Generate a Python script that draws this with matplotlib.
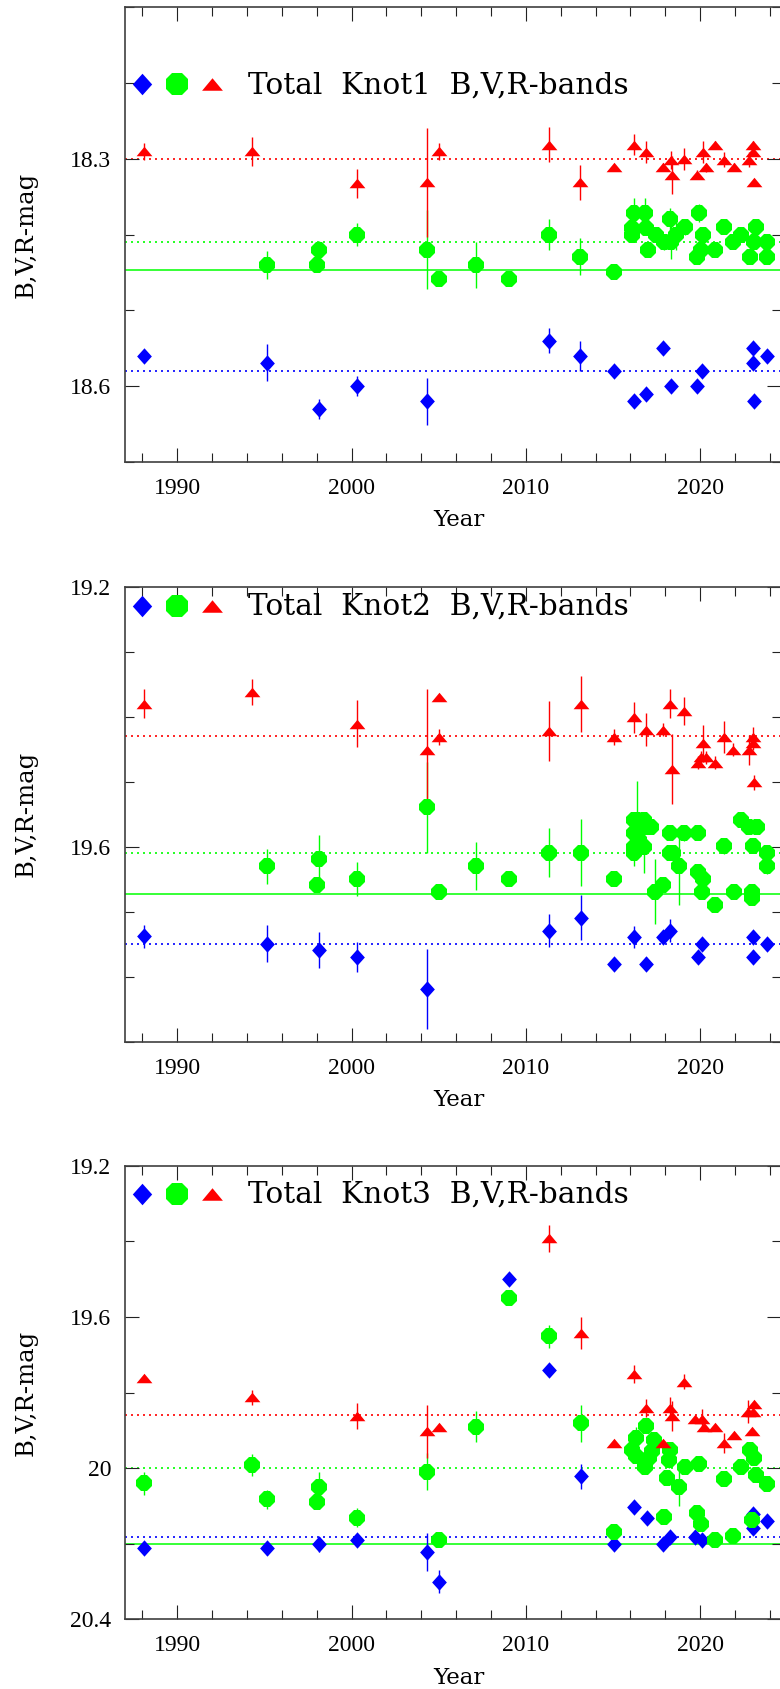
import matplotlib
matplotlib.use("Agg")
import matplotlib.pyplot as plt
from matplotlib.path import Path
from matplotlib.ticker import FixedLocator, MultipleLocator, FuncFormatter

# ---------------------------------------------------------------- data
x_major_ticks = [1990, 2000, 2010, 2020]
x_label = "Year"
y_label = "B,V,R-mag"
titles = ["Total  Knot1  B,V,R-bands", "Total  Knot2  B,V,R-bands", "Total  Knot3  B,V,R-bands"]

# ---- Knot 1
k1_B_year = [1988.1, 1995.13, 1998.13, 2000.33, 2004.31, 2011.34, 2013.12, 2015.06, 2016.2, 2016.91,
             2017.88, 2018.31, 2019.84, 2020.08, 2023.01, 2023.03, 2023.09, 2023.81]
k1_B_mag = [18.56, 18.569, 18.63, 18.60, 18.62, 18.54, 18.56, 18.58, 18.62, 18.61,
            18.55, 18.60, 18.60, 18.58, 18.55, 18.57, 18.62, 18.56]
k1_B_err = [0.006, 0.024, 0.013, 0.013, 0.031, 0.017, 0.02, 0.006, 0.008, 0.008,
            0.006, 0.008, 0.006, 0.006, 0.006, 0.006, 0.006, 0.006]

k1_V_year = [1995.13, 1998.0, 1998.13, 2000.33, 2004.31, 2005.04, 2007.12, 2009.05, 2011.34, 2013.12,
             2015.06, 2016.2, 2016.86, 2016.11, 2016.11, 2016.91, 2017.0, 2017.49, 2017.91, 2018.29,
             2018.34, 2018.63, 2019.11, 2019.91, 2019.83, 2020.14, 2020.06, 2020.86, 2021.37, 2021.91,
             2022.34, 2022.86, 2023.2, 2023.06, 2023.86, 2023.86]
k1_V_mag = [18.44, 18.44, 18.42, 18.40, 18.42, 18.459, 18.44, 18.459, 18.40, 18.429,
            18.449, 18.371, 18.371, 18.391, 18.40, 18.391, 18.42, 18.40, 18.41, 18.38,
            18.41, 18.40, 18.39, 18.371, 18.429, 18.40, 18.42, 18.42, 18.39, 18.41,
            18.40, 18.429, 18.39, 18.41, 18.41, 18.429]
k1_V_err = [0.018, 0.008, 0.012, 0.015, 0.052, 0.006, 0.03, 0.006, 0.021, 0.025,
            0.006, 0.02, 0.02, 0.01, 0.01, 0.01, 0.01, 0.01, 0.01, 0.015,
            0.022, 0.02, 0.01, 0.012, 0.006, 0.01, 0.006, 0.006, 0.008, 0.006,
            0.008, 0.006, 0.006, 0.006, 0.006, 0.006]

k1_R_year = [1988.1, 1994.3, 2000.33, 2004.31, 2005.04, 2011.34, 2013.12, 2015.06, 2016.2, 2016.91,
             2017.88, 2018.31, 2018.36, 2019.05, 2019.8, 2020.14, 2020.33, 2020.85, 2021.37, 2021.94,
             2022.82, 2023.01, 2023.03, 2023.09]
k1_R_mag = [18.29, 18.29, 18.332, 18.331, 18.29, 18.281, 18.331, 18.311, 18.281, 18.291,
            18.311, 18.301, 18.321, 18.30, 18.321, 18.291, 18.311, 18.281, 18.301, 18.311,
            18.301, 18.281, 18.291, 18.331]
k1_R_err = [0.011, 0.019, 0.019, 0.072, 0.011, 0.023, 0.023, 0.004, 0.014, 0.014,
            0.005, 0.012, 0.025, 0.015, 0.006, 0.014, 0.006, 0.004, 0.01, 0.005,
            0.01, 0.005, 0.005, 0.005]

k1_R_ref, k1_V_ref, k1_V_mean, k1_B_ref = 18.30, 18.41, 18.447, 18.58

# ---- Knot 2
k2_B_year = [1988.1, 1995.13, 1998.13, 2000.33, 2004.31, 2011.34, 2013.14, 2015.06, 2016.2, 2016.89,
             2017.88, 2018.27, 2019.85, 2020.08, 2023.01, 2023.01, 2023.85]
k2_B_mag = [19.738, 19.749, 19.759, 19.769, 19.819, 19.729, 19.709, 19.780, 19.739, 19.780,
            19.739, 19.729, 19.769, 19.749, 19.739, 19.769, 19.749]
k2_B_err = [0.018, 0.028, 0.028, 0.023, 0.062, 0.026, 0.035, 0.006, 0.017, 0.01,
            0.006, 0.018, 0.006, 0.006, 0.006, 0.01, 0.006]

k2_V_year = [1995.13, 1998.0, 1998.13, 2000.33, 2004.31, 2005.04, 2007.14, 2009.05, 2011.34, 2013.14,
             2015.06, 2016.2, 2016.2, 2016.2, 2016.2, 2016.4, 2016.8, 2016.9, 2017.2, 2016.8,
             2016.5, 2017.41, 2017.88, 2018.27, 2018.27, 2018.46, 2018.8, 2019.07, 2019.85, 2019.85,
             2020.18, 2020.08, 2020.85, 2021.37, 2021.94, 2022.32, 2022.82, 2023.24, 2023.01, 2022.95,
             2022.95, 2023.81, 2023.81]
k2_V_mag = [19.630, 19.659, 19.619, 19.650, 19.539, 19.669, 19.630, 19.649, 19.609, 19.609,
            19.649, 19.559, 19.579, 19.600, 19.609, 19.559, 19.559, 19.569, 19.569, 19.600,
            19.589, 19.669, 19.659, 19.579, 19.609, 19.609, 19.630, 19.579, 19.579, 19.639,
            19.650, 19.669, 19.690, 19.599, 19.669, 19.559, 19.569, 19.569, 19.599, 19.669,
            19.679, 19.609, 19.630]
k2_V_err = [0.027, 0.008, 0.037, 0.026, 0.07, 0.006, 0.037, 0.006, 0.038, 0.051,
            0.01, 0.01, 0.01, 0.01, 0.02, 0.06, 0.01, 0.01, 0.01, 0.04,
            0.01, 0.05, 0.01, 0.01, 0.012, 0.01, 0.06, 0.012, 0.01, 0.01,
            0.01, 0.006, 0.01, 0.012, 0.006, 0.012, 0.01, 0.006, 0.006, 0.006,
            0.006, 0.006, 0.012]

k2_R_year = [1988.1, 1994.3, 2000.33, 2004.31, 2005.04, 2005.04, 2011.34, 2013.14, 2015.06, 2016.2,
             2016.89, 2017.88, 2018.27, 2018.36, 2019.07, 2019.85, 2020.18, 2020.05, 2020.33, 2020.85,
             2021.37, 2021.9, 2022.82, 2023.01, 2023.01, 2023.09]
k2_R_mag = [19.380, 19.362, 19.411, 19.451, 19.370, 19.431, 19.422, 19.381, 19.431, 19.401,
            19.420, 19.420, 19.380, 19.480, 19.391, 19.471, 19.441, 19.462, 19.462, 19.471,
            19.431, 19.451, 19.451, 19.431, 19.441, 19.501]
k2_R_err = [0.022, 0.020, 0.036, 0.093, 0.004, 0.012, 0.046, 0.043, 0.012, 0.024,
            0.025, 0.01, 0.022, 0.054, 0.022, 0.01, 0.028, 0.01, 0.01, 0.01,
            0.025, 0.01, 0.023, 0.015, 0.01, 0.012]

k2_R_ref, k2_V_ref, k2_V_mean, k2_B_ref = 19.429, 19.609, 19.673, 19.749

# ---- Knot 3
k3_B_year = [1988.1, 1995.13, 1998.13, 2000.33, 2004.31, 2005.04, 2009.05, 2011.34, 2013.14, 2015.06,
             2016.2, 2016.95, 2017.88, 2018.27, 2019.7, 2020.08, 2023.01, 2023.01, 2023.81]
k3_B_mag = [20.212, 20.212, 20.202, 20.190, 20.221, 20.30, 19.50, 19.741, 20.021, 20.202,
            20.102, 20.131, 20.202, 20.181, 20.181, 20.190, 20.122, 20.159, 20.140]
k3_B_err = [0.006, 0.017, 0.02, 0.015, 0.05, 0.03, 0.006, 0.01, 0.033, 0.006,
            0.006, 0.006, 0.006, 0.006, 0.006, 0.006, 0.006, 0.006, 0.006]

k3_V_year = [1988.1, 1994.3, 1995.13, 1998.0, 1998.13, 2000.33, 2004.31, 2005.04, 2007.14, 2009.05,
             2011.34, 2013.14, 2015.06, 2016.11, 2016.34, 2016.29, 2016.91, 2016.86, 2017.06, 2017.34,
             2017.26, 2017.91, 2018.29, 2018.2, 2018.11, 2018.77, 2019.11, 2019.91, 2019.83, 2020.06,
             2020.86, 2021.37, 2021.91, 2022.34, 2022.86, 2023.06, 2023.2, 2022.97, 2023.86]
k3_V_mag = [20.040, 19.992, 20.083, 20.091, 20.051, 20.131, 20.009, 20.190, 19.890, 19.551,
            19.651, 19.882, 20.168, 19.952, 19.921, 19.969, 19.888, 19.998, 19.974, 19.926,
            19.955, 20.129, 19.952, 19.979, 20.027, 20.049, 19.998, 19.988, 20.118, 20.147,
            20.190, 20.029, 20.180, 19.998, 19.952, 19.974, 20.017, 20.137, 20.041]
k3_V_err = [0.03, 0.03, 0.025, 0.01, 0.04, 0.025, 0.048, 0.01, 0.04, 0.006,
            0.03, 0.048, 0.01, 0.01, 0.03, 0.01, 0.01, 0.01, 0.01, 0.01,
            0.01, 0.01, 0.01, 0.02, 0.01, 0.05, 0.01, 0.01, 0.01, 0.01,
            0.01, 0.01, 0.01, 0.01, 0.01, 0.01, 0.01, 0.01, 0.01]

k3_R_year = [1988.1, 1994.3, 2000.33, 2004.31, 2005.04, 2011.34, 2013.14, 2015.06, 2016.2, 2016.89,
             2017.88, 2018.27, 2018.36, 2019.07, 2019.7, 2020.08, 2020.2, 2020.85, 2021.37, 2021.94,
             2022.77, 2023.09, 2023.01, 2022.97]
k3_R_mag = [19.762, 19.813, 19.862, 19.902, 19.892, 19.392, 19.642, 19.933, 19.751, 19.842,
            19.933, 19.842, 19.862, 19.771, 19.871, 19.871, 19.890, 19.890, 19.933, 19.912,
            19.851, 19.831, 19.851, 19.902]
k3_R_err = [0.006, 0.02, 0.034, 0.07, 0.008, 0.035, 0.043, 0.005, 0.024, 0.024,
            0.005, 0.03, 0.04, 0.02, 0.006, 0.027, 0.006, 0.006, 0.027, 0.006,
            0.03, 0.006, 0.006, 0.006]

k3_R_ref, k3_V_ref, k3_V_mean, k3_B_ref = 19.860, 20.0, 20.202, 20.181

# y-axis settings per panel
y_limits = [(18.7, 18.1), (19.9, 19.2), (20.4, 19.2)]
y_major_ticks = [[18.3, 18.6], [19.2, 19.6], [19.2, 19.6, 20.0, 20.4]]
y_minor_step = [0.1, 0.1, 0.2]

# ---------------------------------------------------------------- style
BLUE, GREEN, RED = "#0000ff", "#00ff00", "#ff0000"
W, H = 780, 1689
X_LEFT_PX, X_RIGHT_PX = 125, 781
PX_PER_YEAR = 17.43
panel_top_px = [7.5, 586.7, 1165.7]
panel_bot_px = [461.7, 1041.7, 1619.3]
legend_center_y = [0.8316, 0.9576, 0.9376]
title_baseline_y = [0.8107, 0.9378, 0.9184]

tri_path = Path([(-1, -0.6), (1, -0.6), (0, 0.6), (-1, -0.6)],
                [Path.MOVETO, Path.LINETO, Path.LINETO, Path.CLOSEPOLY])
dia_path = Path([(0, 1), (0.9, 0), (0, -1), (-0.9, 0), (0, 1)],
                [Path.MOVETO, Path.LINETO, Path.LINETO, Path.LINETO, Path.CLOSEPOLY])

panels = [
    dict(B=(k1_B_year, k1_B_mag, k1_B_err), V=(k1_V_year, k1_V_mag, k1_V_err),
         R=(k1_R_year, k1_R_mag, k1_R_err), refs=(k1_R_ref, k1_V_ref, k1_V_mean, k1_B_ref)),
    dict(B=(k2_B_year, k2_B_mag, k2_B_err), V=(k2_V_year, k2_V_mag, k2_V_err),
         R=(k2_R_year, k2_R_mag, k2_R_err), refs=(k2_R_ref, k2_V_ref, k2_V_mean, k2_B_ref)),
    dict(B=(k3_B_year, k3_B_mag, k3_B_err), V=(k3_V_year, k3_V_mag, k3_V_err),
         R=(k3_R_year, k3_R_mag, k3_R_err), refs=(k3_R_ref, k3_V_ref, k3_V_mean, k3_B_ref)),
]

fig = plt.figure(figsize=(W / 100, H / 100), dpi=100)

x0 = 1987.0
x1 = x0 + (X_RIGHT_PX - X_LEFT_PX) / PX_PER_YEAR
fmt = FuncFormatter(lambda v, p: f"{v:g}")
dotted = (0, (1.2, 2.4))

for i, p in enumerate(panels):
    top, bot = panel_top_px[i], panel_bot_px[i]
    rect = [X_LEFT_PX / W, 1 - bot / H, (X_RIGHT_PX - X_LEFT_PX) / W, (bot - top) / H]
    ax = fig.add_axes(rect)
    ax.set_xlim(x0, x1)
    ax.set_ylim(*y_limits[i])

    r_ref, v_ref, v_mean, b_ref = p["refs"]
    ax.axhline(r_ref, color=RED, ls=dotted, lw=1.2, zorder=1.5)
    ax.axhline(v_ref, color=GREEN, ls=dotted, lw=1.2, zorder=1.5)
    ax.axhline(v_mean, color=GREEN, ls="-", lw=1.1, zorder=1.5)
    ax.axhline(b_ref, color=BLUE, ls=dotted, lw=1.2, zorder=1.5)

    bands = [("B", BLUE, dia_path, 11.8, 2.0, 3.0),
             ("V", GREEN, "8", 12.3, 2.1, 3.1),
             ("R", RED, tri_path, 11.4, 2.2, 3.2)]
    for key, col, mk, ms, ez, mz in bands:
        yr, mg, er = p[key]
        ax.errorbar(yr, mg, yerr=er, fmt="none", ecolor=col, elinewidth=1.0,
                    capsize=0, zorder=ez)
        ax.plot(yr, mg, linestyle="none", marker=mk, ms=ms, mfc=col, mec=col,
                mew=0, zorder=mz)

    # legend glyphs + title
    ly = legend_center_y[i]
    ax.plot([(142.3 - X_LEFT_PX) / 656], [ly], transform=ax.transAxes, marker=dia_path,
            ms=15.5, mfc=BLUE, mew=0, ls="none", clip_on=False)
    ax.plot([(177.3 - X_LEFT_PX) / 656], [ly], transform=ax.transAxes, marker="8",
            ms=17.0, mfc=GREEN, mew=0, ls="none", clip_on=False)
    ax.plot([(212.0 - X_LEFT_PX) / 656], [ly], transform=ax.transAxes, marker=tri_path,
            ms=15.0, mfc=RED, mew=0, ls="none", clip_on=False)
    ax.text((248.3 - X_LEFT_PX) / 656, title_baseline_y[i], titles[i], transform=ax.transAxes,
            fontsize=21.3, family="DejaVu Serif", ha="left", va="baseline", color="black")

    # ticks
    ax.xaxis.set_major_locator(FixedLocator(x_major_ticks))
    ax.xaxis.set_minor_locator(MultipleLocator(2))
    ax.yaxis.set_major_locator(FixedLocator(y_major_ticks[i]))
    ax.yaxis.set_minor_locator(MultipleLocator(y_minor_step[i]))
    ax.yaxis.set_major_formatter(fmt)
    ax.xaxis.set_major_formatter(fmt)
    ax.tick_params(which="both", direction="in", top=True, right=True,
                   color="#222222", width=0.8)
    ax.tick_params(which="major", length=10)
    ax.tick_params(which="minor", length=6.5)
    ax.tick_params(axis="x", which="major", pad=11.5, labelsize=17,
                   labelfontfamily="Liberation Serif")
    ax.tick_params(axis="y", which="major", pad=10, labelsize=17,
                   labelfontfamily="Liberation Serif")
    for s in ax.spines.values():
        s.set_color("#404040")
        s.set_linewidth(1.2)

    ax.set_xlabel(x_label, fontsize=16.5, family="DejaVu Serif")
    ax.xaxis.set_label_coords(0.509, -0.105)
    ax.set_ylabel(y_label, fontsize=17.5, family="DejaVu Serif")
    ax.yaxis.set_label_coords(-0.1334, 0.5)

fig.savefig("out.png", dpi=100)
